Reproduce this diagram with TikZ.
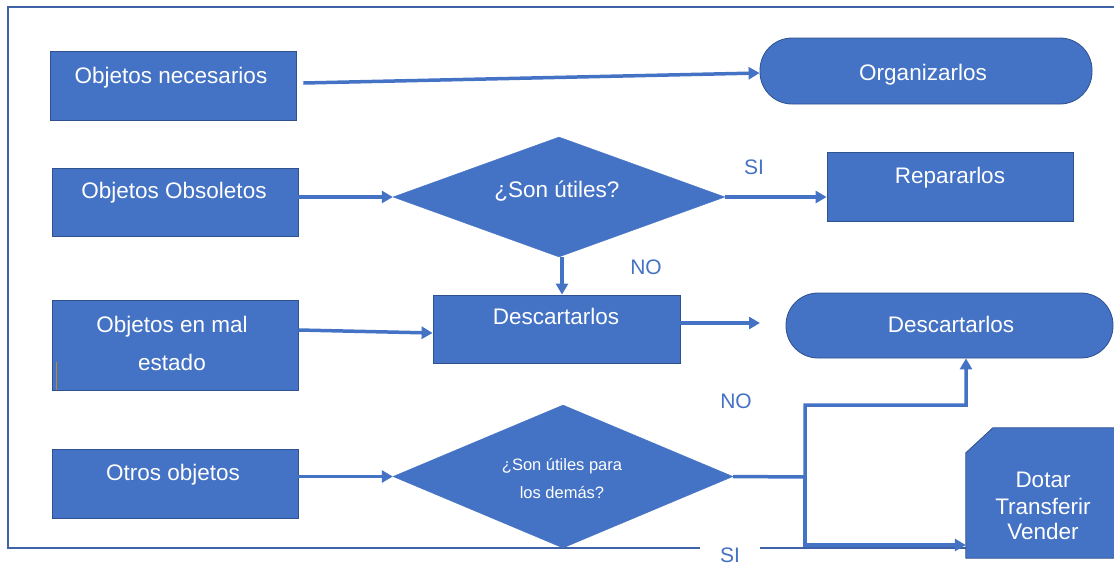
\documentclass[tikz,border=0pt]{standalone}
\usepackage{fontspec}
\setmainfont{Liberation Sans}
\usetikzlibrary{shapes.geometric,arrows.meta,calc}
\definecolor{boxblue}{HTML}{4472C4}
\definecolor{edgeblue}{HTML}{2F528F}
\definecolor{lineblue}{HTML}{4472C4}
\definecolor{framecol}{HTML}{3F63A6}
\definecolor{caret}{HTML}{C5862B}
\begin{document}
\begin{tikzpicture}[x=1pt,y=-1pt,
  box/.style={rectangle, fill=boxblue, draw=edgeblue, line width=0.8pt, inner sep=0pt},
  term/.style={box, rounded corners=32pt},
  decision/.style={diamond, fill=boxblue, draw=boxblue, inner sep=0pt},
  txt/.style={text=white, font=\fontsize{22.5}{26}\selectfont, inner sep=0pt, anchor=base},
  smalltxt/.style={text=white, font=\fontsize{16.5}{19}\selectfont, inner sep=0pt, anchor=base},
  flow/.style={draw=lineblue, line width=3.5pt, -{Triangle[length=11pt,width=12pt]}},
  tag/.style={text=lineblue, font=\fontsize{21}{25}\selectfont, inner sep=0pt, anchor=base}]

\useasboundingbox (0,0) rectangle (1114,565);
\clip (0,0) rectangle (1114,565);

% outer frame
\draw[framecol, line width=1.4pt] (8,7) rectangle (1140,548);

% input boxes
\node[box, minimum width=246pt, minimum height=69pt] (nec) at (173,85.5) {};
\node[box, minimum width=246pt, minimum height=68pt] (obs) at (175,202) {};
\node[box, minimum width=246pt, minimum height=90pt] (mal) at (175,345) {};
\node[box, minimum width=246pt, minimum height=69pt] (otr) at (175,483.5) {};

% results
\node[term, minimum width=332pt, minimum height=66pt] (org) at (926,71) {};
\node[box, minimum width=246pt, minimum height=69pt] (rep) at (950,186.5) {};
\node[box, minimum width=247pt, minimum height=68pt] (desc) at (556.5,329) {};
\node[term, minimum width=327pt, minimum height=65pt] (dterm) at (949.5,325.5) {};

% decisions
\node[decision, minimum width=332pt, minimum height=120pt] (q1) at (559,197) {};
\node[decision, minimum width=340pt, minimum height=143pt] (q2) at (563,476.5) {};

% snipped box
\node[inner sep=0pt, minimum width=160pt, minimum height=130pt] (dot) at (1046,493) {};
\fill[boxblue] ($(dot.north west)+(0,25)$) -- ($(dot.north west)+(27,0)$)
  -- (dot.north east) -- (dot.south east) -- (dot.south west) -- cycle;
\draw[edgeblue, line width=0.8pt] (dot.north east) -- ($(dot.north west)+(27,0)$)
  -- ($(dot.north west)+(0,25)$) -- (dot.south west) -- (dot.south east);

% texts
\node[txt] (tnec) at (171,83) {Objetos necesarios};
\node[txt] (tobs) at (174,198) {Objetos Obsoletos};
\node[txt] (tmal1) at (172,332) {Objetos en mal};
\node[txt] (tmal2) at (172,370) {estado};
\node[txt] (totr) at (173,480) {Otros objetos};
\node[txt] (torg) at (923,80) {Organizarlos};
\node[txt] (trep) at (950,183) {Repararlos};
\node[txt] (tdesc) at (556,324) {Descartarlos};
\node[txt] (tdterm) at (951,332) {Descartarlos};
\node[txt] (tq1) at (557,197) {¿Son útiles?};
\node[smalltxt] (tq2a) at (562,470) {¿Son útiles para};
\node[smalltxt] (tq2b) at (562,498) {los demás?};
\node[txt] (tdot1) at (1043,487) {Dotar};
\node[txt] (tdot2) at (1043,514) {Transferir};
\node[txt] (tdot3) at (1043,539) {Vender};

% text caret
\draw[caret, line width=0.8pt] (56,362) -- (56,390);

% connectors
\coordinate (dfree) at (760,323);
\coordinate (j1) at (805,477);
\coordinate (j2) at (805,405);
\coordinate (up) at (966,405);
\coordinate (j3) at (805,545);

\draw[flow] ([xshift=7pt,yshift=2.5pt]nec.east) -- ([yshift=-2pt]org.west);
\draw[flow] (obs.east |- q1.west) -- (q1.west);
\draw[flow] (q1.east) -- (q1.east -| rep.west);
\draw[flow] ([xshift=3pt]q1.south) -- ([xshift=3pt]q1.south |- desc.north);
\draw[flow] ([yshift=15pt]mal.east) -- ([yshift=-4pt]desc.west);
\draw[flow] (desc.east |- dfree) -- (dfree);
\draw[flow] (otr.east |- q2.west) -- (q2.west);
\draw[flow] (q2.east) -- (j1) -- (j2) -- (up) -- (up |- dterm.south);
\draw[flow] (j1) -- (j3) -- (j3 -| dot.west);

% branch labels
\node[tag] (si1) at (754,174) {SI};
\node[tag] (no1) at (646,274) {NO};
\node[tag] (no2) at (736,408) {NO};
\node[tag, fill=white, inner xsep=20pt, inner ysep=1.2pt] (si2) at (730,562) {SI};
\end{tikzpicture}
\end{document}
